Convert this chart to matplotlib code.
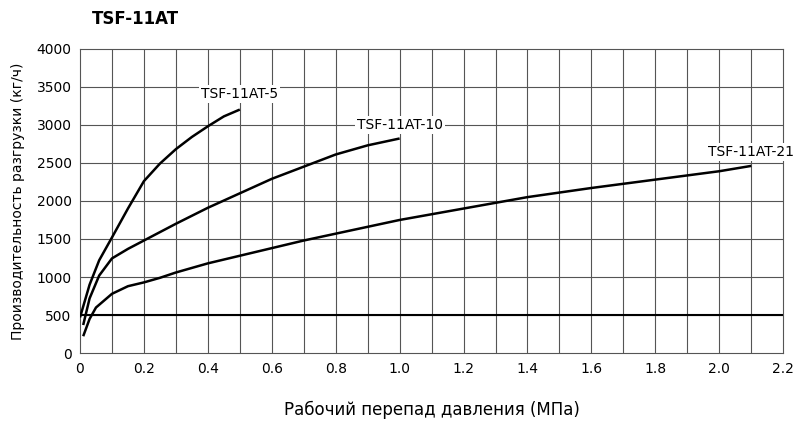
import matplotlib
matplotlib.use("Agg")
import matplotlib.pyplot as plt

x5 = [0.0, 0.03, 0.06, 0.1, 0.15, 0.2, 0.25, 0.3, 0.35, 0.4, 0.45, 0.5]
y5 = [470, 900, 1220, 1520, 1900, 2260, 2490, 2680, 2840, 2980, 3110, 3200]
x10 = [0.01, 0.03, 0.06, 0.1, 0.15, 0.2, 0.3, 0.4, 0.5, 0.6, 0.7, 0.8, 0.9, 1.0]
y10 = [370, 720, 1020, 1245, 1370, 1480, 1700, 1910, 2100, 2290, 2450, 2610, 2730, 2820]
x21 = [0.01, 0.03, 0.05, 0.1, 0.15, 0.2, 0.25, 0.3, 0.4, 0.5, 0.6, 0.7, 0.8, 0.9, 1.0,
       1.2, 1.4, 1.6, 1.8, 2.0, 2.1]
y21 = [223, 450, 600, 780, 880, 930, 990, 1060, 1180, 1280, 1380, 1480, 1570, 1660, 1750,
       1900, 2050, 2170, 2280, 2390, 2460]
labels = ["TSF-11AT-5", "TSF-11AT-10", "TSF-11AT-21"]
label_pos = [(0.5, 3400), (1.0, 3000), (2.1, 2640)]
min_line = 500

fig = plt.figure(figsize=(8, 4.23), dpi=100)
ax = fig.add_axes([0.1, 0.165, 0.879, 0.72])
ax.set_xlim(0, 2.2)
ax.set_ylim(0, 4000)
for i in range(1, 22):
    ax.axvline(i * 0.1, color="#555555", lw=0.8, zorder=1)
for v in range(500, 4000, 500):
    ax.axhline(v, color="#555555", lw=0.8, zorder=1)
ax.axhline(min_line, color="black", lw=1.5, zorder=2)
for xs, ys in [(x5, y5), (x10, y10), (x21, y21)]:
    ax.plot(xs, ys, color="black", lw=1.8, zorder=3, solid_capstyle="butt")
for lab, (lx, ly) in zip(labels, label_pos):
    ax.text(lx, ly, lab, ha="center", va="center", fontsize=10, zorder=4,
            bbox=dict(facecolor="white", edgecolor="none", pad=1.5))
ax.set_xticks([0, 0.2, 0.4, 0.6, 0.8, 1.0, 1.2, 1.4, 1.6, 1.8, 2.0, 2.2])
ax.set_xticklabels(["0", "0.2", "0.4", "0.6", "0.8", "1.0", "1.2", "1.4", "1.6", "1.8", "2.0", "2.2"])
ax.set_yticks(range(0, 4001, 500))
ax.tick_params(length=0, labelsize=10, pad=6)
for s in ax.spines.values():
    s.set_color("#555555")
    s.set_linewidth(0.8)
ax.set_xlabel("Рабочий перепад давления (МПа)", fontsize=12, labelpad=18)
ax.set_ylabel("Производительность разгрузки (кг/ч)", fontsize=10, labelpad=8)
fig.text(0.115, 0.955, "TSF-11AT", fontsize=12, fontweight="bold", va="center")
fig.savefig("out.png", dpi=100)
